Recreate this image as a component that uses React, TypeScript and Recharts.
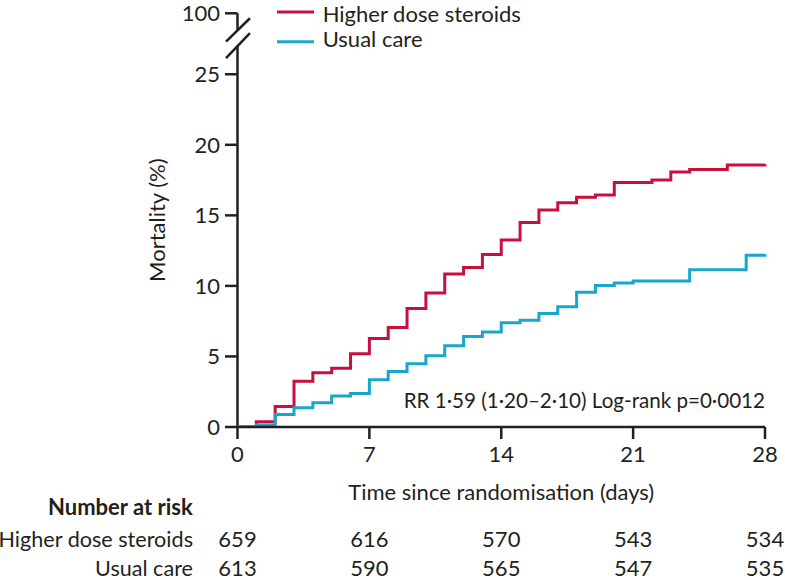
import React from "react";
import { LineChart, Line, XAxis, YAxis, ReferenceLine } from "recharts";

// cumulative mortality (%) read at each day since randomisation
const days = [0, 1, 2, 3, 4, 5, 6, 7, 8, 9, 10, 11, 12, 13, 14, 15, 16, 17, 18, 19, 20, 21, 22, 23, 24, 25, 26, 27, 28];
const higherDose = [0, 0.38, 1.45, 3.25, 3.85, 4.17, 5.2, 6.28, 7.05, 8.4, 9.5, 10.85, 11.3, 12.22, 13.25, 14.5, 15.38, 15.9, 16.28, 16.45, 17.33, 17.33, 17.5, 18.08, 18.25, 18.25, 18.56, 18.56, 18.63];
const usualCare = [0, 0.14, 0.88, 1.36, 1.72, 2.2, 2.38, 3.35, 3.93, 4.48, 5.05, 5.75, 6.42, 6.73, 7.38, 7.57, 8.04, 8.52, 9.55, 10.02, 10.2, 10.35, 10.35, 10.35, 11.15, 11.15, 11.15, 12.18, 12.25];

// number at risk table
const riskDays = [0, 7, 14, 21, 28];
const riskHigherDose = [659, 616, 570, 543, 534];
const riskUsualCare = [613, 590, 565, 547, 535];

const yTicks = [0, 5, 10, 15, 20, 25];
// the axis is broken above 25; "100" sits at this position on the scale
const Y_TOP = 29.32;

const RED = "#c8103e";
const BLUE = "#18a6cc";
const INK = "#231f20";
const FONT = "Lato, 'Open Sans', sans-serif";
const FS = 22;

const data = days.map((d, i) => ({ day: d, high: higherDose[i], usual: usualCare[i] }));

const axisStroke = { stroke: INK, strokeWidth: 2.5 };
const tickText = { fill: INK, fontSize: FS };

export default function App() {
    return (
        <div style={{ position: "absolute", left: 0, top: 0, width: 785, height: 580, fontFamily: FONT, background: "#fff" }}>
            <LineChart
                width={785}
                height={580}
                data={data}
                margin={{ top: 13.3, right: 20, bottom: 0, left: 76 }}
            >
                <XAxis
                    xAxisId="a_time"
                    dataKey="day"
                    type="number"
                    domain={[0, 28]}
                    ticks={riskDays}
                    interval={0}
                    height={96}
                    tickSize={12}
                    tickMargin={7}
                    axisLine={axisStroke}
                    tickLine={axisStroke}
                    tick={tickText}
                    label={{ value: "Time since randomisation (days)", position: "insideBottom", offset: 23, fill: INK, fontSize: FS }}
                />
                <XAxis
                    xAxisId="b_risk"
                    type="number"
                    domain={[0, 28]}
                    ticks={riskDays}
                    interval={0}
                    height={33}
                    tickSize={0}
                    tickMargin={8.6}
                    axisLine={false}
                    tickLine={false}
                    tick={tickText}
                    tickFormatter={(v: number) => String(riskHigherDose[riskDays.indexOf(v)])}
                    label={{ value: "Higher dose steroids", position: "left", offset: 44.5, fill: INK, fontSize: 21.6 }}
                />
                <XAxis
                    xAxisId="c_risk"
                    type="number"
                    domain={[0, 28]}
                    ticks={riskDays}
                    interval={0}
                    height={24}
                    tickSize={0}
                    tickMargin={4}
                    axisLine={false}
                    tickLine={false}
                    tick={tickText}
                    tickFormatter={(v: number) => String(riskUsualCare[riskDays.indexOf(v)])}
                    label={{ value: "Usual care", position: "left", offset: 44.5, fill: INK, fontSize: 21.6 }}
                />
                <YAxis
                    type="number"
                    domain={[0, Y_TOP]}
                    allowDataOverflow
                    ticks={[...yTicks, Y_TOP]}
                    interval={0}
                    width={161.5}
                    tickSize={12.5}
                    tickMargin={5}
                    axisLine={false}
                    tickLine={axisStroke}
                    tick={tickText}
                    tickFormatter={(v: number) => (v === Y_TOP ? "100" : String(v))}
                    label={{ value: "Mortality (%)", angle: -90, position: "center", fill: INK, fontSize: FS }}
                />

                {/* y axis line with the break */}
                <ReferenceLine xAxisId="a_time" segment={[{ x: 0, y: 0 }, { x: 0, y: 27.05 }]} stroke={INK} strokeWidth={2.5} ifOverflow="visible" />
                <ReferenceLine xAxisId="a_time" segment={[{ x: 0, y: 28.16 }, { x: 0, y: Y_TOP }]} stroke={INK} strokeWidth={2.5} ifOverflow="visible" />
                <ReferenceLine xAxisId="a_time" segment={[{ x: -0.61, y: 27.31 }, { x: 0.66, y: 28.97 }]} stroke={INK} strokeWidth={2.5} ifOverflow="visible" />
                <ReferenceLine xAxisId="a_time" segment={[{ x: -0.61, y: 26.15 }, { x: 0.66, y: 27.92 }]} stroke={INK} strokeWidth={2.5} ifOverflow="visible" />

                <Line
                    xAxisId="a_time"
                    type="stepAfter"
                    dataKey="high"
                    name="Higher dose steroids"
                    stroke={RED}
                    strokeWidth={3}
                    dot={false}
                    isAnimationActive={false}
                />
                <Line
                    xAxisId="a_time"
                    type="stepAfter"
                    dataKey="usual"
                    name="Usual care"
                    stroke={BLUE}
                    strokeWidth={3}
                    dot={false}
                    isAnimationActive={false}
                />
            </LineChart>

            {/* legend, annotation and table heading */}
            <svg
                width={785}
                height={580}
                style={{ position: "absolute", left: 0, top: 0, pointerEvents: "none" }}
                fontFamily={FONT}
                fontSize={FS}
                fill={INK}
            >
                <line x1={277} x2={314} y1={12} y2={12} stroke={RED} strokeWidth={3} />
                <text x={322.7} y={21.8}>Higher dose steroids</text>
                <line x1={277} x2={314} y1={41.7} y2={41.7} stroke={BLUE} strokeWidth={3} />
                <text x={322.7} y={47}>Usual care</text>

                <text x={765} y={408.3} textAnchor="end" fontSize={20.6}>RR 1·59 (1·20–2·10) Log-rank p=0·0012</text>

                <text x={192.7} y={515} textAnchor="end" fontWeight="bold">Number at risk</text>
            </svg>
        </div>
    );
}
